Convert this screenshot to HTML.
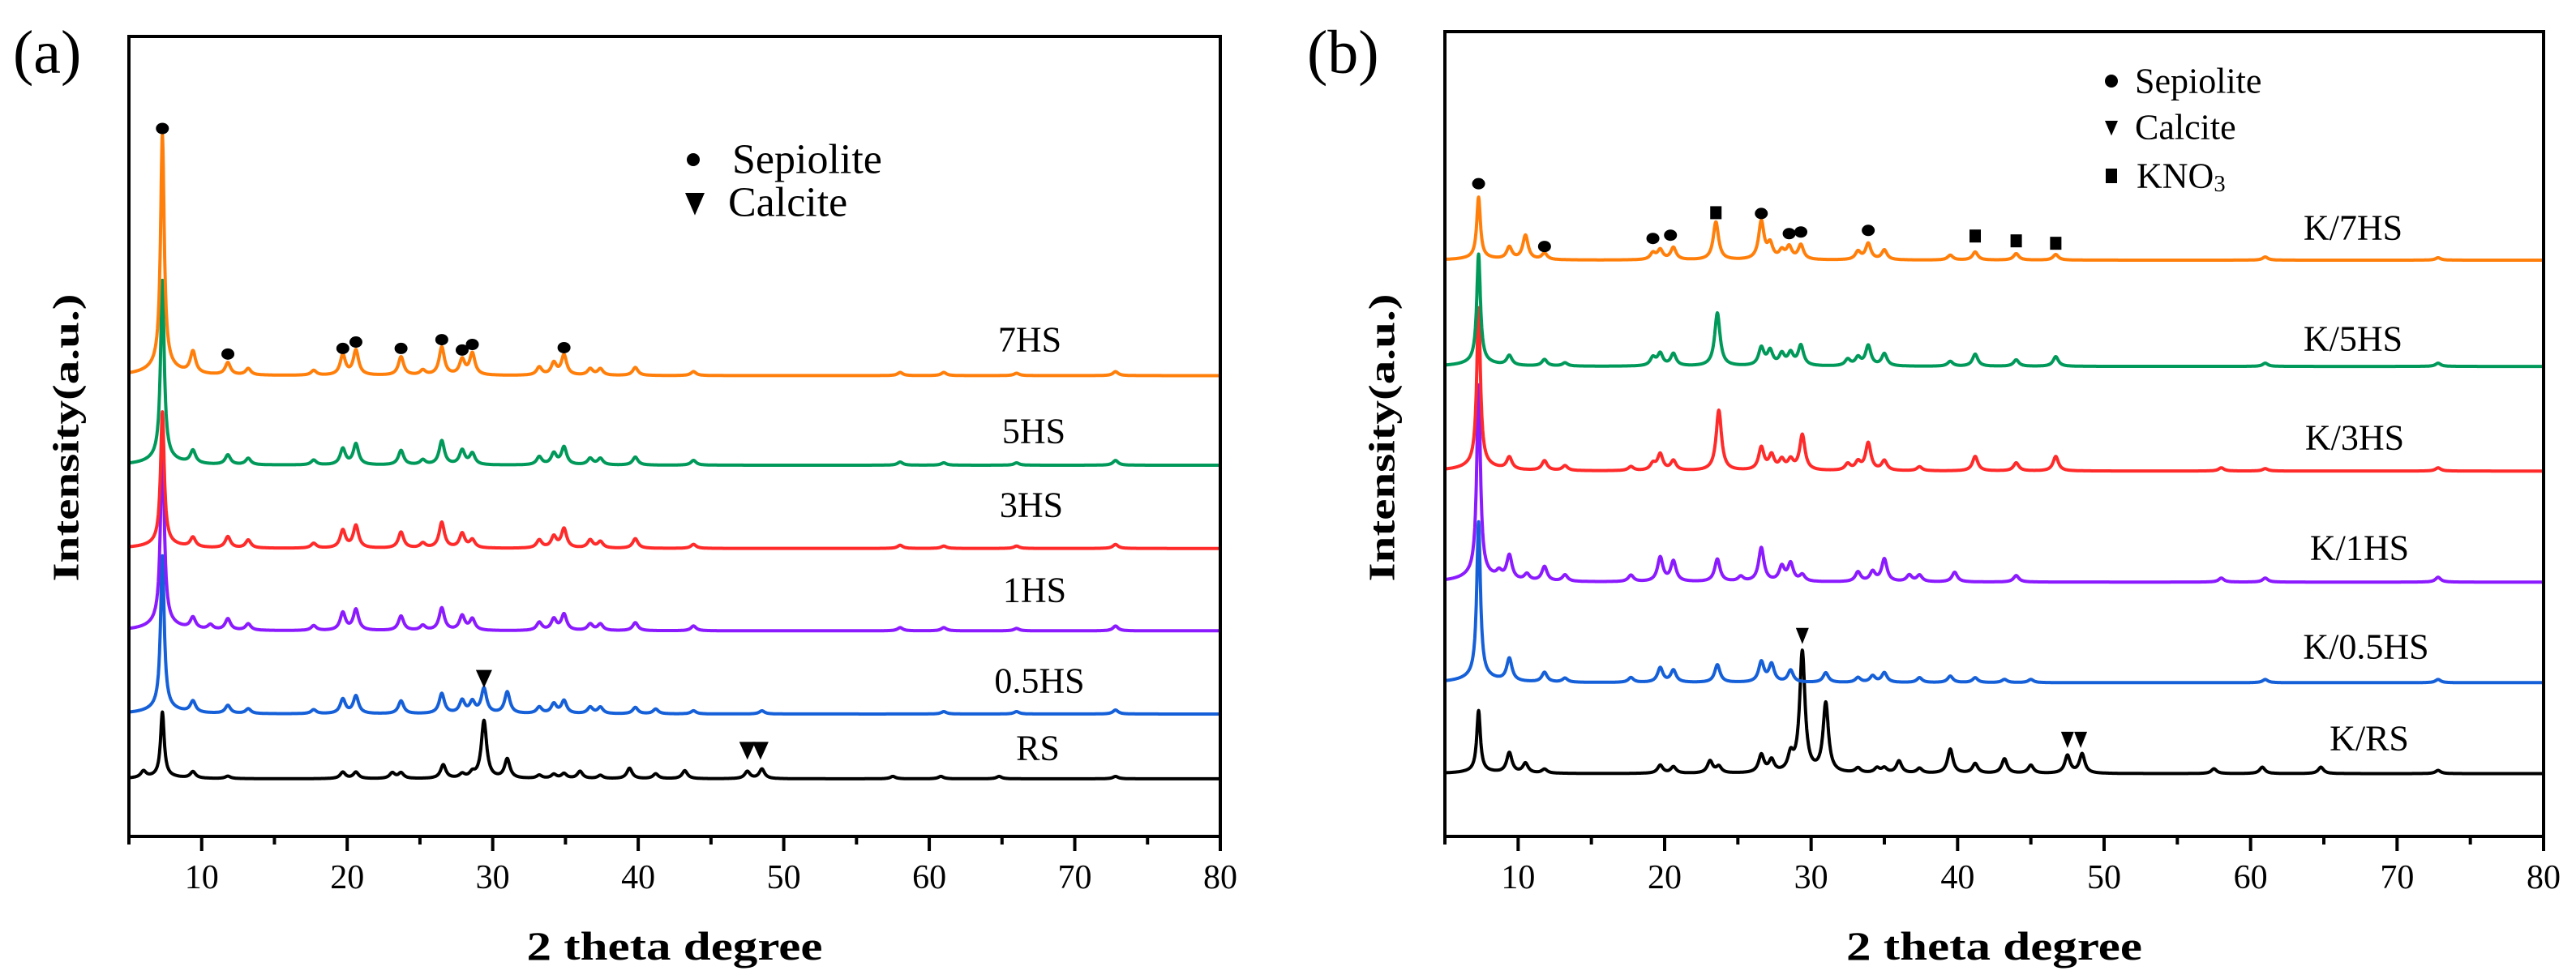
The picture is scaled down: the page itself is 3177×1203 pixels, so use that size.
<!DOCTYPE html>
<html><head><meta charset="utf-8"><style>
html,body{margin:0;padding:0;background:#fff;}
svg{display:block;font-family:"Liberation Serif",serif;}
</style></head><body>
<svg id="fig" width="3177" height="1203" viewBox="0 0 3177 1203" xmlns="http://www.w3.org/2000/svg">
<g id="pa"></g>
<g id="pb"></g>
</svg>
<script>
// ---- data (2θ degrees, peak heights in arbitrary intensity units) ----
const seriesNamesA = ["RS","0.5HS","1HS","3HS","5HS","7HS"];
const colorsA = ["#000000","#1560d8","#8b1aff","#ff2a2a","#00995a","#ff7f0a"];
const offsetsA = [72, 153, 257, 360, 464, 576];
const peaksRS   = [[6.0,8],[7.3,80],[9.4,8],[11.8,3],[19.7,8],[20.6,8],[23.1,7],[23.7,7],[26.6,17],[27.9,5],[28.6,6],[29.4,72],[31.0,24],[33.2,4],[34.2,5],[34.9,6],[36.0,9],[37.4,4],[39.4,13],[41.2,6],[43.2,10],[47.5,9],[48.5,12],[57.5,3],[60.8,3],[64.8,3],[72.8,3]];
const peaks05HS = [[7.3,190],[9.4,14],[11.8,10],[13.2,6],[17.7,5],[19.7,18],[20.6,22],[23.7,16],[26.5,25],[27.9,16],[28.6,14],[29.4,31],[31.0,27],[33.2,8],[34.2,12],[34.9,16],[36.7,8],[37.4,8],[39.8,8],[41.2,6],[43.8,4],[48.5,4],[61,3],[66,3],[72.8,5]];
const peaks1HS  = [[7.3,235],[9.4,14],[10.6,6],[11.8,14],[13.2,8],[17.7,6],[19.7,22],[20.6,26],[23.7,18],[25.2,6],[26.5,28],[27.9,18],[28.6,14],[33.2,10],[34.2,14],[34.9,20],[36.7,8],[37.4,8],[39.8,10],[43.8,6],[58,4],[61,4],[66,3],[72.8,6]];
const peaks3HS  = [[7.3,164],[9.4,12],[11.8,14],[13.2,10],[17.7,6],[19.7,22],[20.6,28],[23.7,20],[25.2,6],[26.5,32],[27.9,18],[28.6,10],[33.2,10],[34.2,14],[34.9,24],[36.7,10],[37.4,8],[39.8,12],[43.8,5],[58,4],[61,3],[66,3],[72.8,5]];
const peaks5HS  = [[7.3,222],[9.4,16],[11.8,12],[13.2,8],[17.7,6],[19.7,20],[20.6,26],[23.7,18],[25.2,6],[26.5,30],[27.9,18],[28.6,14],[33.2,10],[34.2,14],[34.9,22],[36.7,8],[37.4,8],[39.8,10],[43.8,6],[58,4],[61,3],[66,3],[72.8,6]];
const peaks7HS  = [[7.3,290],[9.4,27],[11.8,15],[13.2,8],[17.7,6],[19.7,25],[20.6,31],[23.7,23],[25.2,6],[26.5,35],[27.9,19],[28.6,27],[33.2,10],[34.2,15],[34.9,25],[36.7,8],[37.4,8],[39.8,10],[43.8,5],[58,4],[61,4],[66,3],[72.8,5]];
const peaksA = [peaksRS,peaks05HS,peaks1HS,peaks3HS,peaks5HS,peaks7HS];

const seriesNamesB = ["K/RS","K/0.5HS","K/1HS","K/3HS","K/5HS","K/7HS"];
const colorsB = colorsA;
const offsetsB = [78, 191, 316, 454, 584, 716];
const peaksKRS   = [[7.3,75],[9.4,25],[10.5,12],[11.8,5],[19.7,10],[20.6,8],[23.1,15],[23.7,8],[26.6,22],[27.3,15],[28.6,20],[29.4,150],[31.0,86],[33.2,6],[34.5,6],[35.0,6],[36.0,15],[37.4,6],[39.5,30],[41.2,12],[43.2,18],[45.0,10],[47.5,22],[48.5,24],[57.5,6],[60.8,8],[64.8,8],[72.8,4]];
const peaksK05HS = [[7.3,192],[9.4,28],[11.8,12],[13.2,5],[17.7,6],[19.7,18],[20.6,15],[23.6,22],[26.6,25],[27.3,22],[28.6,15],[31.0,12],[33.2,6],[34.2,8],[35.0,12],[37.4,6],[39.5,8],[41.2,6],[43.2,4],[45,4],[61,4],[72.8,4]];
const peaksK1HS  = [[7.3,235],[8.7,8],[9.4,30],[10.6,8],[11.8,18],[13.2,8],[17.7,8],[19.7,30],[20.6,25],[23.6,28],[25.2,6],[26.6,42],[28.0,18],[28.6,22],[29.4,8],[33.2,12],[34.2,12],[35.0,28],[36.7,8],[37.4,8],[39.8,12],[44.0,8],[58,5],[61,5],[72.8,6]];
const peaksK3HS  = [[7.3,195],[9.4,15],[11.8,12],[13.2,6],[17.7,5],[19.2,8],[19.7,20],[20.6,12],[23.7,75],[26.6,28],[27.3,18],[28.0,12],[28.6,12],[29.4,44],[32.5,8],[33.2,10],[33.9,34],[35.0,12],[37.4,5],[41.2,18],[44.0,10],[46.7,18],[58,4],[61,3],[72.8,4]];
const peaksK5HS  = [[7.3,134],[9.4,12],[11.8,8],[13.2,4],[19.2,10],[19.7,15],[20.6,15],[23.6,66],[26.6,22],[27.2,18],[28.0,14],[28.6,15],[29.3,25],[32.5,8],[33.2,10],[33.9,25],[35.0,15],[39.5,6],[41.2,15],[44.0,8],[46.7,12],[61,4],[72.8,4]];
const peaksK7HS  = [[7.3,75],[9.4,15],[10.5,30],[11.8,8],[19.2,8],[19.7,12],[20.6,15],[23.5,47],[26.6,47],[27.2,18],[28.0,10],[28.5,15],[29.3,18],[33.2,10],[33.9,20],[35.0,12],[39.5,6],[41.2,10],[44.0,8],[46.7,7],[61,4],[72.8,3]];
const peaksB = [peaksKRS,peaksK05HS,peaksK1HS,peaksK3HS,peaksK5HS,peaksK7HS];

const xTicks = [10,20,30,40,50,60,70,80];
const xMinorTicks = [5,15,25,35,45,55,65,75];

const dotsA = [[7.3,885],[11.8,603],[19.7,610],[20.6,618],[23.7,610],[26.5,621],[27.9,608],[28.6,615],[34.9,611]];
const trisA = [[29.4,198],[47.5,108],[48.4,108]];
const dotsB = [[7.3,811],[11.8,733],[19.2,743],[20.4,747],[26.6,774],[28.5,749],[29.3,751],[33.9,753]];
const squaresB = [[23.5,775],[41.2,746],[44.0,740],[46.7,737]];
const trisB = [[29.4,250],[47.5,121],[48.4,121]];

const NS="http://www.w3.org/2000/svg";
function mk(tag, attrs, parent){const e=document.createElementNS(NS,tag);for(const k in attrs)e.setAttribute(k,attrs[k]);parent.appendChild(e);return e;}

function panel(g, box, names, colors, offsets, peaks, dots, tris, squares, labelPos, letter, letterX, legend){
  const xs = v => box.l + (v-5)/75*(box.r-box.l);
  const ys = v => box.b - v*(box.b-box.t)/1000;
  for(let s=0;s<names.length;s++){
    let d="";
    for(let x=5;x<=80.0001;x+=0.02){
      let y=offsets[s];
      for(const [p,h] of peaks[s]){
        const w = p===7.3 ? 0.15 : 0.22;
        y += h/(1+((x-p)/w)**2);
        if(p===7.3) y += h*0.04/(1+((x-p)/1.2)**2);
      }
      d += (d?"L":"M")+xs(x).toFixed(1)+" "+ys(y).toFixed(1);
    }
    const path = mk("path",{d:d,fill:"none",stroke:colors[s],"stroke-width":4,"stroke-linejoin":"round"},g);
    
    
    const t = mk("text",{x:labelPos[s][0],y:labelPos[s][1],"font-size":44,"text-anchor":"middle","dominant-baseline":"central"},g);
    t.textContent=names[s];
    
    
  }
  for(const [p,v] of dots){
    const c=mk("ellipse",{cx:xs(p),cy:ys(v),rx:8,ry:7,fill:"#000"},g);
    
    
  }
  for(const [p,v] of tris){
    const x=xs(p), y=ys(v);
    const t=mk("polygon",{points:`${x-10},${y-10} ${x+10},${y-10} ${x},${y+12}`,fill:"#000"},g);
    
    
  }
  for(const [p,v] of squares){
    const x=xs(p), y=ys(v);
    const r=mk("rect",{x:x-7,y:y-8,width:14,height:16,fill:"#000"},g);
    
    
  }
  const fr=mk("rect",{x:box.l,y:box.t,width:box.r-box.l,height:box.b-box.t,fill:"none",stroke:"#000","stroke-width":4},g);
  
  
  for(const v of xTicks){
    const l=mk("line",{x1:xs(v),x2:xs(v),y1:box.b,y2:box.b+18,stroke:"#000","stroke-width":4},g);
    
    
    const t=mk("text",{x:xs(v),y:box.b+64,"font-size":42,"text-anchor":"middle"},g);
    t.textContent=v;
    
    
  }
  for(const v of xMinorTicks){
    const l=mk("line",{x1:xs(v),x2:xs(v),y1:box.b,y2:box.b+10,stroke:"#000","stroke-width":4},g);
    
    
  }
  const xt=mk("text",{x:(box.l+box.r)/2,y:box.b+152,"font-size":50,"font-weight":"bold","text-anchor":"middle",textLength:365,lengthAdjust:"spacingAndGlyphs"},g);
  xt.textContent="2 theta degree";
  
  
  const yx=box.l-78;
  const yt=mk("text",{x:yx,y:540,"font-size":46,"font-weight":"bold","text-anchor":"middle","dominant-baseline":"central",textLength:355,lengthAdjust:"spacingAndGlyphs",transform:`rotate(-90 ${yx} 540)`},g);
  yt.textContent="Intensity(a.u.)";
  
  
  const lt=mk("text",{x:letterX,y:90,"font-size":76},g);
  lt.textContent=letter;
  
  
  for(const it of legend){
    if(it.type==="dot"){const e=mk("ellipse",{cx:it.x,cy:it.y,rx:8,ry:8,fill:"#000"},g);}
    if(it.type==="tri"){const e=mk("polygon",{points:`${it.x-it.s},${it.y-it.s} ${it.x+it.s},${it.y-it.s} ${it.x},${it.y+it.s*1.3}`,fill:"#000"},g);}
    if(it.type==="sq"){const e=mk("rect",{x:it.x-7,y:it.y-9,width:14,height:18,fill:"#000"},g);}
    const t=mk("text",{x:it.tx,y:it.y,"font-size":it.fs,"dominant-baseline":"central"},g);
    if(it.sub){t.textContent=it.label;const ts=mk("tspan",{"font-size":it.fs*0.65,dy:10},t);ts.textContent=it.sub;}
    else t.textContent=it.label;
    
    
  }
}

panel(document.getElementById("pa"),{l:159,r:1505,t:45,b:1032},seriesNamesA,colorsA,offsetsA,peaksA,dotsA,trisA,[],
  [[1280,923],[1282,840],[1276,728],[1272,623],[1275,532],[1270,419]],"(a)",16,
  [{type:"dot",x:855,y:197,tx:903,label:"Sepiolite",fs:52},{type:"tri",x:857,y:250,s:12,tx:898,label:"Calcite",fs:52}]);
panel(document.getElementById("pb"),{l:1782,r:3137,t:39,b:1032},seriesNamesB,colorsB,offsetsB,peaksB,dotsB,[],squaresB,
  [[2922,911],[2918,798],[2910,676],[2904,540],[2902,418],[2902,281]],"(b)",1612,
  [{type:"dot",x:2604,y:100,tx:2633,label:"Sepiolite",fs:44},{type:"tri",x:2604,y:157,s:8,tx:2633,label:"Calcite",fs:44},{type:"sq",x:2604,y:217,tx:2635,label:"KNO",sub:"3",fs:44}]);
(function(){
  const g=document.getElementById("pb");
  const xs=v=>1782+(v-5)/75*(3137-1782), ys=v=>1032-v*(1032-39)/1000;
  for(const [p,v] of trisB){
    const x=xs(p),y=ys(v);
    const t=mk("polygon",{points:`${x-8},${y-9} ${x+8},${y-9} ${x},${y+11}`,fill:"#000"},g);
    
    
  }
})();
</script>
</body></html>
